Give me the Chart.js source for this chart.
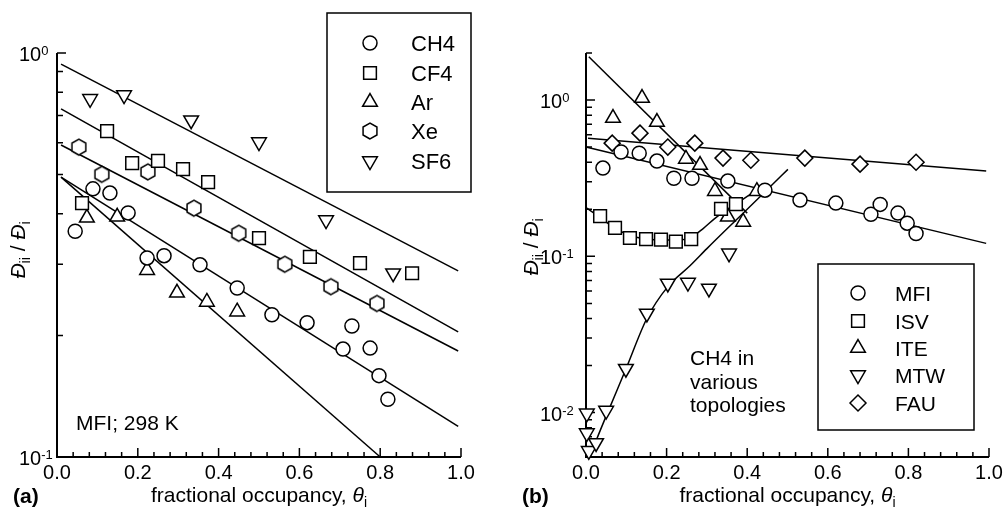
<!DOCTYPE html>
<html>
<head>
<meta charset="utf-8">
<title>Self-exchange diffusivity vs fractional occupancy</title>
<script src="https://cdn.jsdelivr.net/npm/chart.js@4.4.1/dist/chart.umd.min.js"></script>
<style>
  html, body { margin: 0; padding: 0; background: #fff; }
  #wrap { position: relative; width: 1005px; height: 511px; }
  #wrap canvas { position: absolute; left: 0; top: 0; }
</style>
</head>
<body>
<div id="wrap">
  <canvas id="chart-a" width="1005" height="511"></canvas>
  <canvas id="chart-b" width="1005" height="511"></canvas>
</div>
<script>
const FONT = '"Liberation Sans", Arial, Helvetica, sans-serif';

// (a) MFI at 298 K, five guest molecules
const aNames = ['CH4', 'CF4', 'Ar', 'Xe', 'SF6'];
const ch4X = [0.045, 0.089, 0.131, 0.176, 0.223, 0.265, 0.354, 0.446, 0.532, 0.619, 0.708, 0.730, 0.775, 0.797, 0.819];
const ch4Y = [0.362, 0.461, 0.450, 0.402, 0.311, 0.315, 0.299, 0.262, 0.225, 0.215, 0.185, 0.211, 0.186, 0.159, 0.139];
const cf4X = [0.062, 0.124, 0.186, 0.250, 0.312, 0.374, 0.500, 0.626, 0.750, 0.879];
const cf4Y = [0.425, 0.641, 0.534, 0.541, 0.516, 0.479, 0.348, 0.313, 0.302, 0.285];
const arX = [0.074, 0.149, 0.223, 0.297, 0.371, 0.446];
const arY = [0.391, 0.393, 0.290, 0.255, 0.242, 0.229];
const xeX = [0.054, 0.111, 0.225, 0.339, 0.450, 0.564, 0.678, 0.792];
const xeY = [0.585, 0.501, 0.508, 0.413, 0.358, 0.300, 0.264, 0.240];
const sf6X = [0.082, 0.166, 0.332, 0.500, 0.666, 0.832];
const sf6Y = [0.770, 0.787, 0.682, 0.602, 0.386, 0.285];

// exponential fits, straight on the log axis
const fitX = [0.01, 0.993];
const sf6Fit = [0.939, 0.289];
const cf4Fit = [0.727, 0.204];
const xeFit = [0.592, 0.183];
const ch4Fit = [0.493, 0.119];
const arFitX = [0.01, 0.80];
const arFit = [0.493, 0.100];

// (b) CH4 in five zeolite topologies
const bNames = ['MFI', 'ISV', 'ITE', 'MTW', 'FAU'];
const mfiX = [0.042, 0.087, 0.132, 0.176, 0.218, 0.263, 0.352, 0.444, 0.531, 0.620, 0.707, 0.730, 0.774, 0.797, 0.819];
const mfiY = [0.367, 0.465, 0.457, 0.407, 0.316, 0.316, 0.303, 0.265, 0.229, 0.219, 0.186, 0.215, 0.189, 0.163, 0.140];
const isvX = [0.035, 0.072, 0.109, 0.149, 0.186, 0.223, 0.261, 0.335, 0.372];
const isvY = [0.181, 0.152, 0.131, 0.129, 0.128, 0.124, 0.129, 0.201, 0.216];
const iteX = [0.067, 0.139, 0.176, 0.248, 0.283, 0.320, 0.352, 0.390, 0.424];
const iteY = [0.767, 1.03, 0.723, 0.420, 0.384, 0.261, 0.179, 0.166, 0.261];
const mtwX = [0.002, 0.002, 0.007, 0.025, 0.050, 0.099, 0.151, 0.203, 0.253, 0.305, 0.355];
const mtwY = [0.0099, 0.0074, 0.0057, 0.0064, 0.0103, 0.0191, 0.0431, 0.0671, 0.068, 0.0623, 0.1045];
const fauX = [0.065, 0.134, 0.203, 0.270, 0.340, 0.409, 0.543, 0.680, 0.819];
const fauY = [0.530, 0.614, 0.500, 0.530, 0.425, 0.412, 0.425, 0.389, 0.400];

const mfiFitX = [0.0, 0.993];
const mfiFit = [0.50, 0.121];
const fauFitX = [0.005, 0.993];
const fauFit = [0.57, 0.351];
const iteFitX = [0.007, 0.40];
const iteFit = [1.89, 0.189];
const isvCurveX = [0, 0.035, 0.07, 0.11, 0.15, 0.19, 0.23, 0.26, 0.29, 0.32, 0.35, 0.38, 0.41];
const isvCurveY = [0.205, 0.178, 0.152, 0.136, 0.129, 0.127, 0.127, 0.132, 0.150, 0.175, 0.199, 0.223, 0.252];
const mtwCurveX = [0.010, 0.025, 0.050, 0.099, 0.151, 0.203, 0.258, 0.300, 0.350, 0.400, 0.450, 0.501];
const mtwCurveY = [0.0052, 0.0066, 0.0095, 0.0190, 0.0400, 0.0640, 0.087, 0.112, 0.150, 0.200, 0.268, 0.360];

// axes
const xTickValues = [0, 0.2, 0.4, 0.6, 0.8, 1.0];
const xTickLabels = ['0.0', '0.2', '0.4', '0.6', '0.8', '1.0'];
const xMinorStep = 0.04;
const aDecades = [0.1, 1];
const aExps = ['-1', '0'];
const bDecades = [0.01, 0.1, 1];
const bExps = ['-2', '-1', '0'];

function pts(xs, ys) {
    return xs.map((x, i) => ({ x: x, y: ys[i] }));
}

function hexagon(r) {
    const c = document.createElement('canvas');
    const s = Math.ceil(r * 2 + 4);
    c.width = s;
    c.height = s;
    const g = c.getContext('2d');
    g.beginPath();
    for (let k = 0; k < 6; k++) {
        const t = Math.PI / 2 + k * Math.PI / 3;
        const px = s / 2 + r * Math.cos(t), py = s / 2 + r * Math.sin(t);
        if (k) g.lineTo(px, py); else g.moveTo(px, py);
    }
    g.closePath();
    g.fillStyle = '#fff';
    g.fill();
    g.lineWidth = 1.5;
    g.strokeStyle = '#000';
    g.stroke();
    return c;
}

function markers(label, xs, ys, style, radius, rotation) {
    return {
        label: label,
        data: pts(xs, ys),
        showLine: false,
        pointStyle: style,
        pointRadius: radius,
        pointRotation: rotation || 0,
        pointBorderWidth: 1.5,
        pointBorderColor: '#000',
        pointBackgroundColor: '#fff',
        clip: false,
        order: 0
    };
}

function fit(xs, ys, smooth) {
    return {
        data: pts(xs, ys),
        showLine: true,
        pointRadius: 0,
        borderColor: '#000',
        borderWidth: 1.5,
        cubicInterpolationMode: smooth ? 'monotone' : 'default',
        tension: smooth ? 0.4 : 0,
        fill: false,
        clip: false,
        order: 1
    };
}

function drawPower(ctx, exp, left, cy) {
    ctx.textAlign = 'left';
    ctx.font = '20px ' + FONT;
    ctx.fillText('10', left, cy + 7);
    const w = ctx.measureText('10').width;
    ctx.font = '13px ' + FONT;
    ctx.fillText(exp, left + w, cy + 1);
}

// runs of text drawn one after another on a common baseline
function drawRuns(ctx, runs, cx, baseY) {
    let total = 0;
    runs.forEach(r => { ctx.font = r.f; total += ctx.measureText(r.t).width; });
    let x = cx - total / 2;
    ctx.textAlign = 'left';
    runs.forEach(r => {
        ctx.font = r.f;
        ctx.fillText(r.t, x, baseY + (r.dy || 0));
        x += ctx.measureText(r.t).width;
    });
}

function drawAxes(chart, spec) {
    const ctx = chart.ctx, a = chart.chartArea;
    const xs = chart.scales.x, ys = chart.scales.y;
    ctx.save();
    ctx.strokeStyle = '#000';
    ctx.fillStyle = '#000';
    ctx.lineWidth = 2;
    ctx.beginPath();
    ctx.moveTo(a.left, a.top);
    ctx.lineTo(a.left, a.bottom);
    ctx.lineTo(a.right, a.bottom);
    ctx.stroke();

    ctx.lineWidth = 1.5;
    ctx.beginPath();
    const n = Math.round(1 / xMinorStep);
    for (let i = 0; i <= n; i++) {
        const v = i * xMinorStep;
        const px = xs.getPixelForValue(v);
        const major = xTickValues.some(t => Math.abs(t - v) < 1e-6);
        ctx.moveTo(px, a.bottom);
        ctx.lineTo(px, a.bottom - (major ? 9 : 5));
    }
    const lo = Math.floor(Math.log10(ys.min) + 1e-9);
    const hi = Math.ceil(Math.log10(ys.max) - 1e-9);
    for (let e = lo; e <= hi; e++) {
        for (let m = 1; m <= 9; m++) {
            const v = m * Math.pow(10, e);
            if (v < ys.min * 0.999 || v > ys.max * 1.001) continue;
            const py = ys.getPixelForValue(v);
            ctx.moveTo(a.left, py);
            ctx.lineTo(a.left + (m === 1 ? 9 : 6), py);
        }
    }
    ctx.stroke();

    // tick labels
    ctx.font = '20px ' + FONT;
    ctx.textAlign = 'center';
    ctx.textBaseline = 'alphabetic';
    xTickValues.forEach((v, i) => {
        ctx.fillText(xTickLabels[i], xs.getPixelForValue(v), a.bottom + 22);
    });
    spec.decades.forEach((v, i) => {
        drawPower(ctx, spec.exps[i], spec.yLabelLeft, ys.getPixelForValue(v) + 1);
    });

    // x title
    drawRuns(ctx, [
        { t: 'fractional occupancy, ', f: '21px ' + FONT },
        { t: '\u03B8', f: 'italic 21px ' + FONT },
        { t: 'i', f: '14px ' + FONT, dy: 5 }
    ], (a.left + a.right) / 2, 502);

    // y title, rotated
    ctx.save();
    ctx.translate(spec.yTitle.x, spec.yTitle.y);
    ctx.rotate(-Math.PI / 2);
    drawRuns(ctx, [
        { t: '\u0110', f: 'italic 21px ' + FONT },
        { t: 'ii', f: '14px ' + FONT, dy: 5 },
        { t: ' / ', f: '21px ' + FONT },
        { t: '\u0110', f: 'italic 21px ' + FONT },
        { t: 'i', f: '14px ' + FONT, dy: 5 }
    ], 0, 0);
    ctx.restore();

    // panel tag
    ctx.font = 'bold 21px ' + FONT;
    ctx.textAlign = 'left';
    ctx.fillText(spec.tag.text, spec.tag.x, 503);
    ctx.restore();
}

function drawLegend(chart, spec) {
    const ctx = chart.ctx, lg = spec.legend;
    ctx.save();
    ctx.fillStyle = '#fff';
    ctx.fillRect(lg.box[0], lg.box[1], lg.box[2] - lg.box[0], lg.box[3] - lg.box[1]);
    ctx.strokeStyle = '#000';
    ctx.lineWidth = 1.5;
    ctx.strokeRect(lg.box[0], lg.box[1], lg.box[2] - lg.box[0], lg.box[3] - lg.box[1]);
    const sets = chart.data.datasets.filter(d => d.showLine === false);
    sets.forEach((d, i) => {
        const y = lg.rowY[i];
        ctx.fillStyle = '#fff';
        ctx.strokeStyle = '#000';
        ctx.lineWidth = 1.5;
        Chart.helpers.drawPoint(ctx, {
            pointStyle: d.pointStyle,
            radius: d.pointRadius,
            rotation: d.pointRotation,
            borderWidth: 1.5
        }, lg.symX, y);
        ctx.fillStyle = '#000';
        ctx.font = lg.font + 'px ' + FONT;
        ctx.textAlign = 'left';
        ctx.fillText(d.label, lg.textX, y + 8);
    });
    // free text notes
    ctx.fillStyle = '#000';
    ctx.font = '21px ' + FONT;
    spec.notes.forEach(t => ctx.fillText(t.text, t.x, t.y));
    ctx.restore();
}

function makePanel(spec) {
    const frame = {
        id: 'frame',
        beforeDatasetsDraw(chart) { drawAxes(chart, spec); },
        afterDatasetsDraw(chart) { drawLegend(chart, spec); }
    };
    new Chart(document.getElementById(spec.canvas), {
        type: 'scatter',
        data: { datasets: spec.datasets },
        options: {
            responsive: false,
            animation: false,
            events: [],
            layout: { padding: spec.padding },
            plugins: { legend: { display: false }, tooltip: { enabled: false } },
            scales: {
                x: { type: 'linear', min: 0, max: 1, display: false },
                y: { type: 'logarithmic', min: spec.yMin, max: spec.yMax, display: false }
            }
        },
        plugins: [frame]
    });
}

const hex = hexagon(8);

makePanel({
    canvas: 'chart-a',
    padding: { left: 57, top: 53, right: 544, bottom: 54 },
    yMin: 0.1, yMax: 1,
    decades: aDecades, exps: aExps,
    yLabelLeft: 19,
    yTitle: { x: 25, y: 250 },
    tag: { text: '(a)', x: 13 },
    legend: { box: [327, 13, 471, 192], symX: 370, textX: 411, rowY: [43, 73, 102, 131, 161], font: 22 },
    notes: [{ text: 'MFI; 298 K', x: 76, y: 430 }],
    datasets: [
        markers(aNames[0], ch4X, ch4Y, 'circle', 7),
        markers(aNames[1], cf4X, cf4Y, 'rect', 9),
        markers(aNames[2], arX, arY, 'triangle', 8.5),
        markers(aNames[3], xeX, xeY, hex, 8),
        markers(aNames[4], sf6X, sf6Y, 'triangle', 8.5, 180),
        fit(fitX, sf6Fit),
        fit(fitX, cf4Fit),
        fit(fitX, xeFit),
        fit(fitX, ch4Fit),
        fit(arFitX, arFit)
    ]
});

makePanel({
    canvas: 'chart-b',
    padding: { left: 586, top: 53, right: 16, bottom: 54 },
    yMin: 0.0052, yMax: 2,
    decades: bDecades, exps: bExps,
    yLabelLeft: 540,
    yTitle: { x: 538, y: 247 },
    tag: { text: '(b)', x: 522 },
    legend: { box: [818, 264, 974, 430], symX: 858, textX: 895, rowY: [293, 321, 348, 375, 403], font: 21 },
    notes: [
        { text: 'CH4 in', x: 690, y: 365 },
        { text: 'various', x: 690, y: 389 },
        { text: 'topologies', x: 690, y: 412 }
    ],
    datasets: [
        markers(bNames[0], mfiX, mfiY, 'circle', 7),
        markers(bNames[1], isvX, isvY, 'rect', 9),
        markers(bNames[2], iteX, iteY, 'triangle', 8.5),
        markers(bNames[3], mtwX, mtwY, 'triangle', 8.5, 180),
        markers(bNames[4], fauX, fauY, 'rectRot', 8),
        fit(mfiFitX, mfiFit),
        fit(fauFitX, fauFit),
        fit(iteFitX, iteFit),
        fit(isvCurveX, isvCurveY, true),
        fit(mtwCurveX, mtwCurveY, true)
    ]
});
</script>
</body>
</html>
